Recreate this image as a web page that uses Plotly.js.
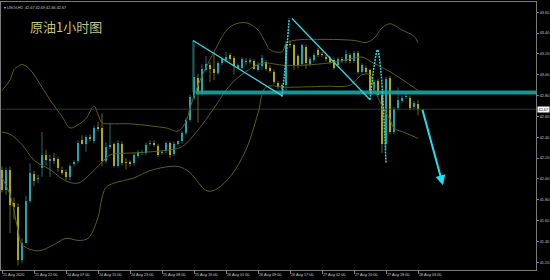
<!DOCTYPE html>
<html><head><meta charset="utf-8">
<script src="https://cdn.plot.ly/plotly-3.0.1.min.js"></script>
<style>html,body{margin:0;padding:0;background:#000;}#chart{width:550px;height:280px;}</style>
</head><body><div id="chart"></div>
<script>
// ---- OHLC data, USOil H1 (index 0 = first visible bar) ----
const openP = [
42.09,41.89,42.09,41.77,41.73,41.22,41.39,41.79,42.05,42.00,
42.11,42.23,42.17,42.20,42.19,42.09,42.07,42.02,42.14,42.17,
42.37,42.34,42.40,42.36,42.50,42.49,42.17,42.31,42.34,42.12,
42.34,42.16,42.16,42.15,42.22,42.25,42.25,42.34,42.35,42.32,
42.25,42.27,42.35,42.24,42.34,42.36,42.44,42.57,42.78,42.97,
42.83,43.05,43.09,43.06,43.02,43.11,43.14,43.19,43.16,43.07,
43.07,43.13,43.12,43.13,43.05,43.08,43.12,43.07,43.03,42.92,
42.86,42.90,43.30,43.29,43.18,43.10,43.27,43.10,43.14,43.24,
43.20,43.17,43.16,43.14,43.09,43.15,43.13,43.19,43.13,43.21,
43.03,43.07,43.05,42.85,42.94,42.81,42.34,42.97,42.45,42.68,
42.75,42.79,42.78,42.69,42.72];
const highP = [
42.12,42.11,42.12,41.82,41.77,41.43,41.84,42.15,42.08,42.04,
42.45,42.28,42.23,42.25,42.21,42.12,42.09,42.14,42.18,42.37,
42.42,42.42,42.43,42.51,42.55,42.63,42.35,42.54,42.35,42.37,
42.36,42.20,42.18,42.25,42.28,42.28,42.35,42.37,42.37,42.34,
42.28,42.36,42.36,42.36,42.37,42.46,42.59,42.81,43.32,43.01,
43.10,43.18,43.12,43.22,43.13,43.17,43.22,43.21,43.18,43.11,
43.17,43.16,43.16,43.15,43.12,43.19,43.14,43.09,43.05,42.94,
42.92,43.32,43.33,43.30,43.20,43.30,43.29,43.17,43.21,43.26,
43.22,43.19,43.18,43.16,43.17,43.17,43.24,43.21,43.23,43.23,
43.11,43.09,43.06,42.95,42.96,42.82,42.98,42.99,42.69,42.88,
42.80,42.82,42.80,42.75,42.76];
const lowP = [
41.87,41.85,41.48,41.61,41.17,41.19,41.38,41.77,41.93,41.96,
42.02,42.13,42.02,42.14,42.07,42.04,41.99,41.99,42.12,42.15,
42.33,42.26,42.36,42.34,42.46,42.12,42.15,42.29,42.11,42.11,
42.13,42.09,42.12,42.13,42.20,42.23,42.23,42.32,42.31,42.21,
42.23,42.25,42.20,42.22,42.32,42.34,42.42,42.55,42.76,42.54,
42.80,43.03,42.93,42.95,43.00,43.09,43.12,43.13,43.00,43.06,
43.05,43.09,43.10,43.05,43.03,43.05,43.04,43.02,42.91,42.86,
42.79,42.85,43.26,43.05,43.06,43.08,43.06,43.08,43.12,43.17,
43.17,43.13,43.10,43.05,43.07,43.11,43.11,43.11,43.11,43.01,
43.01,43.01,42.82,42.83,42.79,42.25,42.28,42.43,42.43,42.66,
42.73,42.77,42.66,42.67,42.61];
const closeP = [
41.89,42.09,41.75,41.73,41.22,41.39,41.79,42.06,41.98,42.01,
42.23,42.18,42.19,42.17,42.11,42.06,42.02,42.12,42.16,42.35,
42.34,42.40,42.38,42.49,42.48,42.17,42.31,42.33,42.12,42.35,
42.15,42.15,42.14,42.23,42.26,42.26,42.33,42.35,42.33,42.23,
42.26,42.35,42.23,42.34,42.36,42.44,42.57,42.79,42.98,42.84,
43.06,43.10,43.06,43.02,43.11,43.15,43.17,43.15,43.08,43.09,
43.15,43.12,43.14,43.06,43.09,43.16,43.06,43.04,42.93,42.88,
42.90,43.30,43.29,43.09,43.09,43.29,43.11,43.15,43.19,43.19,
43.19,43.15,43.12,43.07,43.15,43.13,43.20,43.13,43.21,43.03,
43.09,43.03,42.84,42.93,42.81,42.34,42.96,42.45,42.67,42.76,
42.78,42.80,42.68,42.73,42.67];

// ---- time axis labels ----
const tickIdx = [0,8,16,24,32,40,48,56,64,72,80,88,96,104];
const tickLabels = ["21 Aug 2020","21 Aug 22:00","24 Aug 07:00","24 Aug 15:00","24 Aug 23:00",
  "25 Aug 08:00","25 Aug 16:00","26 Aug 01:00","26 Aug 09:00","26 Aug 17:00",
  "27 Aug 02:00","27 Aug 10:00","27 Aug 18:00","28 Aug 03:00"];
const priceTicks = [41.2,41.4,41.6,41.8,42.0,42.2,42.4,42.6,42.8,43.0,43.2,43.4,43.6];

// ---- Bollinger bands ----
const upperK = [0,2,3,4,5,7,10,12,15,17,19,21,23,24,25,27,32,37,41,44,46,47,49,53,57,61,64,66,67,70,71,73,81,88,91,93,95,97,100,103,104];
const upperP = [42.85,42.95,43.05,43.08,43.10,43.05,42.88,42.76,42.60,42.49,42.52,42.58,42.70,42.62,42.54,42.53,42.53,42.51,42.49,42.46,42.55,42.68,42.90,43.22,43.46,43.50,43.43,43.30,43.24,43.22,43.30,43.33,43.34,43.33,43.31,43.35,43.45,43.49,43.43,43.37,43.31];
const midK = [0,2,5,8,12,16,19,21,25,27,33,37,42,45,49,53,57,61,65,71,81,88,90,93,97,101,104];
const midP = [42.45,42.43,42.33,42.18,42.09,41.98,41.96,42.01,42.16,42.23,42.25,42.26,42.28,42.31,42.47,42.68,42.90,43.03,43.11,43.09,43.11,43.16,43.17,43.11,43.03,42.93,42.85];
const lowerK = [0,2,4,5,9,13,16,19,21,22,24,25,26,28,33,37,44,47,51,53,57,61,64,66,71,81,87,90,92,93,95,97,98,101,104];
const lowerP = [42.01,41.85,41.51,41.37,41.31,41.37,41.43,41.41,41.42,41.45,41.63,41.82,41.92,41.96,42.01,42.08,42.12,42.06,41.89,41.89,42.02,42.28,42.63,42.88,42.88,42.89,42.90,43.00,43.00,42.87,42.70,42.57,42.49,42.44,42.39];

// ---- drawn objects ----
const lastPrice = 42.67;
const supportK = [48.5, 140];
const supportP = [42.83, 42.83];
const vertK = [47.75, 47.75];
const vertP = [43.33, 42.83];
const trend1K = [47.75, 70];
const trend1P = [43.33, 42.80];
const dash1K = [70, 70.9, 71.8];
const dash1P = [42.79, 43.12, 43.54];
const trend2K = [72.5, 92];
const trend2P = [43.54, 42.76];
const dash2K = [92, 93.1, 93.9, 94.8, 96];
const dash2P = [42.76, 43.10, 43.24, 43.00, 42.15];
const arrowK = [105, 110.25];
const arrowP = [42.68, 41.94];

const CYAN = '#12e6f2', YEL = '#f4ee00', BAND = '#5f5d14';
const idx = openP.map((_, i) => i);

function wicks(bull, color) {
  const xs = [], ys = [];
  idx.forEach(i => {
    if ((closeP[i] > openP[i]) !== bull) return;
    xs.push(i, i, null); ys.push(lowP[i], highP[i], null);
  });
  return {type:'scatter', mode:'lines', x:xs, y:ys, line:{color:color, width:1}, hoverinfo:'skip'};
}
const line = (x, y, color, width, dash, shape) => ({type:'scatter', mode:'lines', x:x, y:y,
  line:{color:color, width:width, dash:dash || 'solid', shape:shape || 'linear'}, hoverinfo:'skip'});

const traces = [
  line([-1, 140], [lastPrice, lastPrice], '#353535', 1),
  line(upperK, upperP, BAND, 1, 'solid', 'spline'),
  line(midK, midP, BAND, 1, 'solid', 'spline'),
  line(lowerK, lowerP, BAND, 1, 'solid', 'spline'),
  wicks(true, '#2a6666'),
  wicks(false, '#66661e'),
  {type:'bar', x:idx,
   base: idx.map(i => Math.min(openP[i], closeP[i])),
   y: idx.map(i => Math.max(Math.abs(closeP[i] - openP[i]), 0.009)),
   width:0.62, marker:{color: idx.map(i => closeP[i] > openP[i] ? CYAN : YEL), line:{width:0}}, hoverinfo:'skip'},
  line(supportK, supportP, 'rgba(26,158,158,0.92)', 4),
  line(vertK, vertP, '#1f8080', 1),
  line(trend1K, trend1P, '#3ad6e0', 1.3),
  line(dash1K, dash1P, '#3ad6e0', 1.5, '2px,1px', 'spline'),
  line(trend2K, trend2P, '#3ad6e0', 1.3),
  line(dash2K, dash2P, '#3ad6e0', 1.5, '2px,1px', 'spline')
];

const layout = {
  width:550, height:280, showlegend:false,
  margin:{l:1, r:14, t:2, b:10, pad:0},
  paper_bgcolor:'#000', plot_bgcolor:'#000',
  bargap:0,
  xaxis:{range:[-0.25, 133.5], tickvals:tickIdx, ticktext:tickLabels, ticks:'outside', ticklen:3,
    tickcolor:'#808080', ticklabelposition:'outside right', tickfont:{size:3.8, color:'#c8c8c8', family:'Liberation Sans'},
    showgrid:false, zeroline:false, showline:true, mirror:true, linecolor:'#7a7a7a', linewidth:1, fixedrange:true},
  yaxis:{range:[41.126, 43.699], side:'right', tickvals:priceTicks, ticktext:priceTicks.map(v => v.toFixed(2)),
    ticks:'outside', ticklen:2, tickcolor:'#808080', tickfont:{size:3.8, color:'#c8c8c8', family:'Liberation Sans'},
    showgrid:false, zeroline:false, showline:true, mirror:true, linecolor:'#7a7a7a', linewidth:1, fixedrange:true},
  annotations:[
    {xref:'paper', yref:'y', x:1, y:lastPrice, xanchor:'left', yanchor:'middle', xshift:1,
     text:lastPrice.toFixed(2), showarrow:false, bgcolor:'#ffffff', borderpad:0.6,
     font:{size:3.8, color:'#000', family:'Liberation Sans'}},
    {xref:'paper', yref:'paper', x:0.122, y:0.91, xanchor:'center', yanchor:'middle',
     text:'原油1小时图', showarrow:false, font:{size:13, color:'#c2c284', family:'Noto Sans CJK SC'}},
    {xref:'paper', yref:'paper', x:0.002, y:0.992, xanchor:'left', yanchor:'top',
     text:'▾ USOil,H1  42.67 42.69 42.66 42.67', showarrow:false,
     font:{size:3.8, color:'#c8c8c8', family:'Liberation Sans'}},
    {xref:'x', yref:'y', axref:'x', ayref:'y', x:arrowK[1], y:arrowP[1], ax:arrowK[0], ay:arrowP[0],
     text:'', showarrow:true, arrowhead:2, arrowsize:1, arrowwidth:2, arrowcolor:'#1ee0ee'}
  ]
};
Plotly.newPlot('chart', traces, layout, {staticPlot:true, displayModeBar:false});
</script>
</body></html>
